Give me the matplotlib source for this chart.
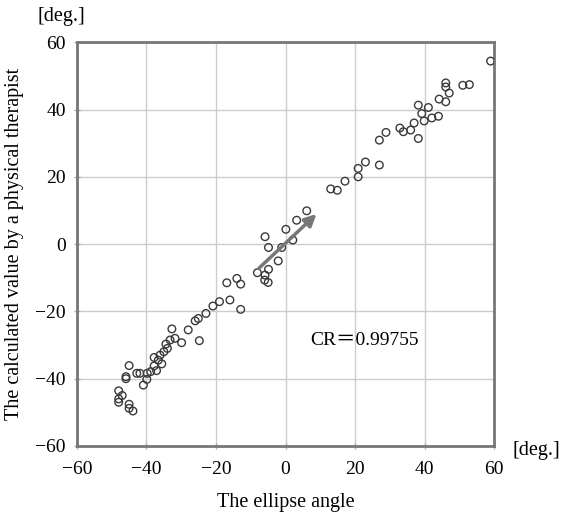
import matplotlib.pyplot as plt

plt.rcParams['font.family'] = ['Liberation Serif', 'Noto Sans CJK JP', 'DejaVu Serif']

# ellipse angle (x) and therapist value (y)
ellipse_angle = [-48.0, -47.0, -48.0, -48.0, -45.0, -45.9, -45.9, -45.0, -45.0, -43.9,
                 -42.8, -41.9, -40.9, -39.9, -39.8, -38.8, -37.1, -37.8, -37.8, -36.6,
                 -35.6, -36.1, -35.0, -34.0, -34.4, -33.2, -32.7, -31.8, -29.9, -28.0,
                 -26.0, -25.1, -24.8, -22.9, -20.9, -19.0, -16.9, -16.0, -14.0, -12.9,
                 -12.9, -8.1, -5.9, -4.9, -5.9, -4.9, -2.1, -1.1, 0.1, 2.1,
                 3.2, 6.1, -6.0, -5.0, 13.0, 14.9, 17.1, 20.9, 20.9, 23.0,
                 59.0, 51.0, 52.9, 46.1, 46.1, 47.1, 44.2, 46.1, 38.2, 41.1,
                 39.2, 44.0, 42.1, 39.9, 37.0, 32.9, 33.9, 36.0, 38.2, 28.9,
                 27.0, 27.0]
therapist_value = [-43.6, -45.0, -47.0, -46.0, -36.1, -39.4, -40.0, -47.6, -48.8, -49.6,
                   -38.4, -38.4, -41.9, -40.2, -38.4, -37.9, -37.6, -36.2, -33.7, -34.5,
                   -35.6, -33.0, -32.0, -31.0, -29.7, -28.5, -25.2, -28.0, -29.3, -25.5,
                   -22.8, -22.1, -28.7, -20.6, -18.4, -17.1, -11.5, -16.6, -10.2, -11.9,
                   -19.4, -8.5, -9.2, -7.5, 2.2, -1.0, -5.0, -1.0, 4.4, 1.2,
                   7.1, 9.9, -10.7, -11.4, 16.4, 16.0, 18.7, 20.0, 22.5, 24.4,
                   54.4, 47.2, 47.4, 47.9, 46.7, 44.9, 43.1, 42.3, 41.3, 40.6,
                   38.8, 38.0, 37.5, 36.6, 36.0, 34.5, 33.4, 33.9, 31.4, 33.2,
                   30.9, 23.5]

ticks = [-60, -40, -20, 0, 20, 40, 60]
cr_text = 'CR\uff1d0.99755'

fig = plt.figure(figsize=(5.64, 5.15), dpi=100)
ax = fig.add_axes([0.1365, 0.134, 0.7395, 0.784])

ax.scatter(ellipse_angle, therapist_value, s=30, facecolors='none',
           edgecolors='#3a3a3a', linewidths=1.0, zorder=3)

# trend arrow
ax.annotate('', xy=(9.5, 9.5), xytext=(-8.2, -7.7),
            arrowprops=dict(arrowstyle='-|>,head_length=0.7,head_width=0.35',
                            color='#777777', lw=2.5), zorder=4)

ax.text(7, -28.5, cr_text, fontsize=14, va='center', ha='left')

ax.set_xlim(-60, 60)
ax.set_ylim(-60, 60)
ax.set_xticks(ticks)
ax.set_yticks(ticks)
ax.grid(True, color='#cccccc', lw=1.0)
ax.set_axisbelow(True)
for s in ax.spines.values():
    s.set_color('#777777')
    s.set_linewidth(2.0)
ax.tick_params(length=4, width=1, color='#aaaaaa', labelsize=14, direction='inout')
ax.tick_params(axis='x', pad=9)
ax.tick_params(axis='y', pad=6)

ax.set_xlabel('The ellipse angle', fontsize=14.5)
ax.set_ylabel('The calculated value by a physical therapist', fontsize=14.5)
ax.xaxis.set_label_coords(0.5, -0.141)
ax.yaxis.set_label_coords(-0.149, 0.5)
ax.xaxis.label.set_va('center')
ax.yaxis.label.set_va('center')

fig.text(0.067, 0.967, '[deg.]', fontsize=14.5, ha='left', va='center')
fig.text(0.908, 0.126, '[deg.]', fontsize=14.5, ha='left', va='center')

fig.savefig('out.png', dpi=100)
